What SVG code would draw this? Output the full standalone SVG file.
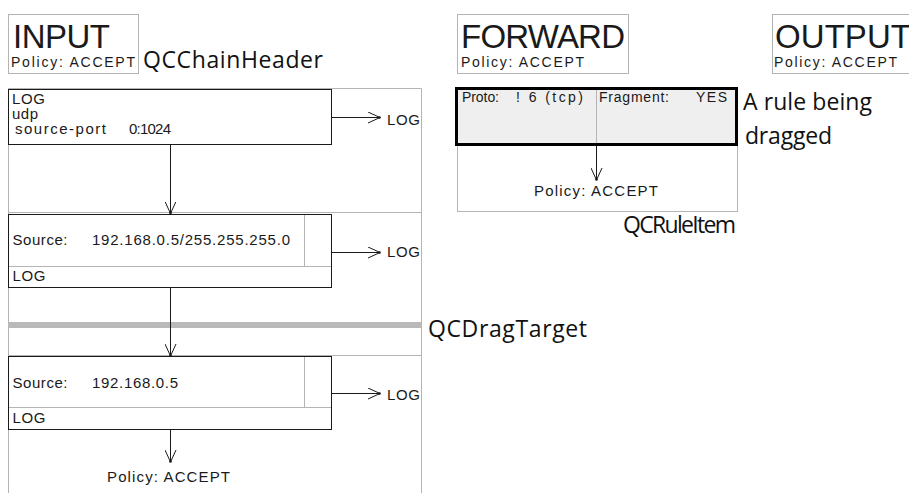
<svg xmlns="http://www.w3.org/2000/svg" width="909" height="493" viewBox="0 0 909 493">
<style>
  .frame{fill:none;stroke:#b4b4b4;stroke-width:1}
  .gline{stroke:#b4b4b4;stroke-width:1;fill:none}
  .rule{fill:#ffffff;stroke:#1a1a1a;stroke-width:1}
  .t{font-family:"Liberation Sans",Arial,Helvetica,sans-serif;fill:#1a1a1a}
  .big{font-size:33px}
  .sm{font-size:14px}
  .md{font-size:15px}
  .xs{font-size:14px}
  .lbl{font-family:"Open Sans","DejaVu Sans",sans-serif;font-size:23px;fill:#111}
  .conn{stroke:#1a1a1a;stroke-width:1;fill:none}
</style>
<defs>
  <marker id="arr" viewBox="0 0 13 12" refX="12" refY="6" markerWidth="13" markerHeight="12" markerUnits="userSpaceOnUse" orient="auto">
    <path d="M0,0.5 L12,6 L0,11.5" fill="none" stroke="#1a1a1a" stroke-width="1"/>
    <circle cx="11.5" cy="6" r="1.3" fill="#1a1a1a"/>
  </marker>
</defs>
<rect width="909" height="493" fill="#ffffff"/>

<g id="input-header">
  <rect class="frame" x="8.5" y="14.5" width="130" height="59"/>
  <text class="t big" x="13" y="48" textLength="97">INPUT</text>
  <text class="t sm" x="11" y="67" textLength="124">Policy: ACCEPT</text>
</g>
<g id="forward-header">
  <rect class="frame" x="457.5" y="14.5" width="171" height="59"/>
  <text class="t big" x="461" y="48" textLength="164">FORWARD</text>
  <text class="t sm" x="461" y="67" textLength="123">Policy: ACCEPT</text>
</g>
<g id="output-header">
  <rect class="frame" x="772.5" y="14.5" width="150" height="59"/>
  <text class="t big" x="775" y="48" textLength="136">OUTPUT</text>
  <text class="t sm" x="774" y="67" textLength="123">Policy: ACCEPT</text>
</g>

<g id="input-chain">
  <path class="gline" d="M8.5,493 V88.5 H421.5 V493"/>
  <path class="gline" d="M8,212.5 H422"/>
  <path class="gline" d="M8,355.5 H422"/>
</g>

<g id="rule-1">
  <rect class="rule" x="8.5" y="89.5" width="323" height="55"/>
  <text class="t md" x="12" y="104" textLength="33">LOG</text>
  <text class="t md" x="12" y="119" textLength="26">udp</text>
  <text class="t md" x="15" y="134" textLength="91">source-port</text>
  <text class="t md" x="129" y="134" textLength="42">0:1024</text>
</g>

<g id="rule-2">
  <rect class="rule" x="8.5" y="214.5" width="323" height="73"/>
  <path class="gline" d="M304.5,215 V266.5 M9,266.5 H331"/>
  <text class="t md" x="12.5" y="245" textLength="55">Source:</text>
  <text class="t md" x="92" y="245" textLength="198">192.168.0.5/255.255.255.0</text>
  <text class="t md" x="12.5" y="281" textLength="33">LOG</text>
</g>

<g id="drag-target">
  <rect x="8" y="322" width="414" height="6" fill="#b9b9b9"/>
</g>

<g id="rule-3">
  <rect class="rule" x="8.5" y="356.5" width="323" height="73"/>
  <path class="gline" d="M304.5,357 V407.5 M9,407.5 H331"/>
  <text class="t md" x="12.5" y="388" textLength="55">Source:</text>
  <text class="t md" x="92" y="388" textLength="86">192.168.0.5</text>
  <text class="t md" x="12.5" y="423" textLength="33">LOG</text>
</g>

<g id="input-policy">
  <text class="t md" x="107" y="482" textLength="123">Policy: ACCEPT</text>
</g>

<g id="forward-chain">
  <rect class="frame" x="457.5" y="88.5" width="280" height="123"/>
</g>

<g id="dragged-rule">
  <rect x="456.5" y="88.5" width="280" height="56" fill="#efefef" stroke="#000" stroke-width="3"/>
  <path class="gline" d="M596.5,90 V143"/>
  <text class="t xs" x="462" y="102" textLength="37">Proto:</text>
  <text class="t xs" x="516" y="102" textLength="67">! 6 (tcp)</text>
  <text class="t xs" x="599" y="102" textLength="70">Fragment:</text>
  <text class="t xs" x="696" y="102" textLength="31">YES</text>
</g>

<g id="forward-policy">
  <text class="t md" x="534" y="196" textLength="124">Policy: ACCEPT</text>
</g>

<g id="arrow-targets">
  <text class="t md" x="387" y="125" textLength="33">LOG</text>
  <text class="t md" x="387" y="257" textLength="33">LOG</text>
  <text class="t md" x="387" y="400" textLength="33">LOG</text>
</g>

<g id="labels">
  <text class="lbl" x="143" y="68" textLength="180">QCChainHeader</text>
  <text class="lbl" x="743" y="110" textLength="129">A rule being</text>
  <text class="lbl" x="745" y="144" textLength="87">dragged</text>
  <text class="lbl" x="623" y="233" font-size="21" textLength="113">QCRuleItem</text>
  <text class="lbl" x="428" y="337" textLength="159">QCDragTarget</text>
</g>

<g id="connectors">
  <line class="conn" x1="170.5" y1="145" x2="170.5" y2="213.5" marker-end="url(#arr)"/>
  <line class="conn" x1="170.5" y1="288" x2="170.5" y2="356" marker-end="url(#arr)"/>
  <line class="conn" x1="170.5" y1="430" x2="170.5" y2="462" marker-end="url(#arr)"/>
  <line class="conn" x1="332" y1="117.5" x2="380" y2="117.5" marker-end="url(#arr)"/>
  <line class="conn" x1="332" y1="252.5" x2="380" y2="252.5" marker-end="url(#arr)"/>
  <line class="conn" x1="332" y1="393.5" x2="380" y2="393.5" marker-end="url(#arr)"/>
  <line class="conn" x1="596.5" y1="146" x2="596.5" y2="180" marker-end="url(#arr)"/>
</g>
</svg>
